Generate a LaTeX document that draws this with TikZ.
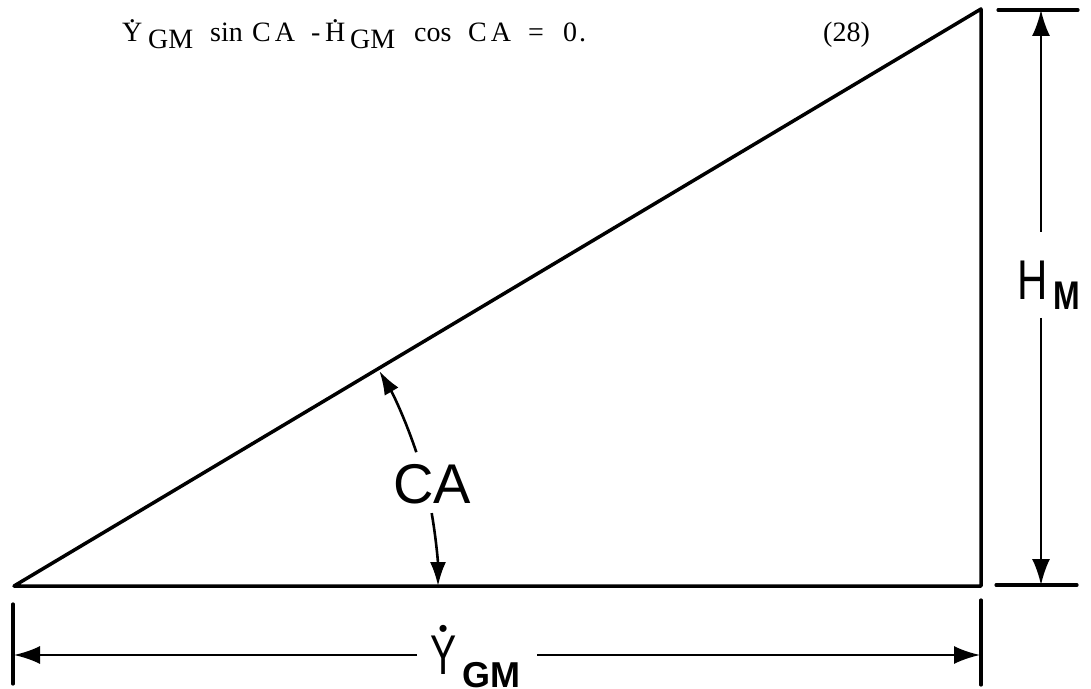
\documentclass[tikz,border=0pt]{standalone}
\usepackage{fontspec}
\setmainfont{Liberation Serif}
\newfontfamily\labfont{Liberation Sans}
\usetikzlibrary{arrows.meta}
\newcommand\dotover[3][2pt]{\leavevmode\setbox0\hbox{#3}\rlap{\hbox to\wd0{\hss\raisebox{\dimexpr\ht0+#1\relax}{#2}\hss}}\box0}
\newcommand\eqslot[2]{\makebox[#1pt][l]{#2}}
\begin{document}
\begin{tikzpicture}[x=1pt,y=1pt,
  edge/.style={line width=3.5pt, line join=round, line cap=round},
  dimline/.style={line width=2.4pt},
  tickline/.style={line width=3.2pt, line cap=round},
  dimarrow/.style={dimline,-{Latex[length=26pt,width=18pt]}},
  angarrow/.style={line width=2.6pt,-{Latex[length=24pt,width=16pt]}},
  lab/.style={font=\labfont\fontsize{56}{56}\selectfont, inner sep=0pt},
  eqtext/.style={font=\fontsize{28}{28}\selectfont, inner sep=0pt}]
\useasboundingbox (0,0) rectangle (1091,688);
% triangle
\coordinate (A) at (14,102);
\coordinate (B) at (981,102);
\coordinate (C) at (981,679);
\draw[edge] (A) -- (B) -- (C) -- cycle;
% vertical dimension
\coordinate (ht1) at (998,678); \coordinate (ht2) at (1078,678);
\coordinate (hb1) at (996,103); \coordinate (hb2) at (1077,103);
\draw[tickline] (ht1) -- (ht2);
\draw[tickline] (hb1) -- (hb2);
\coordinate (htop) at (1041,678);
\coordinate (hbot) at (1041,103);
\coordinate (hgapT) at (1041,456);
\coordinate (hgapB) at (1041,370);
\draw[dimarrow] (hgapT) -- (htop);
\draw[dimarrow] (hgapB) -- (hbot);
\node[lab, anchor=base west] (hm) at (1017,388) {\scalebox{0.75}[1]{H}\hspace{6pt}\raisebox{-10pt}{\fontsize{40}{40}\bfseries\scalebox{0.8}[1]{M}}};
% horizontal dimension
\coordinate (wl1) at (13,84); \coordinate (wl2) at (13,4);
\coordinate (wr1) at (981,88); \coordinate (wr2) at (981,3);
\draw[tickline] (wl1) -- (wl2);
\draw[tickline] (wr1) -- (wr2);
\coordinate (wleft) at (14,33); \coordinate (wright) at (980,33);
\coordinate (wgapL) at (417,33); \coordinate (wgapR) at (537,33);
\draw[dimarrow] (wgapL) -- (wleft);
\draw[dimarrow] (wgapR) -- (wright);
\node[lab, anchor=base west] (yg) at (430,14) {\dotover[-2pt]{{\fontsize{26}{26}\selectfont •}}{\scalebox{0.7}[1]{Y}}\hspace{6pt}\raisebox{-13pt}{\fontsize{36}{36}\bfseries GM}};
% angle
\draw[angarrow] ([shift={(18.4:424)}]A) arc[start angle=18.4, end angle=30.5, radius=424];
\draw[angarrow] ([shift={(9.9:424)}]A) arc[start angle=9.9, end angle=0, radius=424];
\node[lab, anchor=base] (ca) at (432,185) {CA};
% equation
\node[eqtext, anchor=base west] (eq) at (122,646) {\eqslot{26}{\dotover[1.5pt]{.}{Y}}\eqslot{62}{\raisebox{-7pt}{GM}}\eqslot{42}{sin}\eqslot{59}{C\hspace{4pt}A}\eqslot{14}{-}\eqslot{25}{\dotover[1.5pt]{.}{H}}\eqslot{64}{\raisebox{-7pt}{GM}}\eqslot{54}{cos}\eqslot{60}{C\hspace{4pt}A}\eqslot{35}{=}0\hspace{2pt}.};
\node[eqtext, anchor=base west] (eqn) at (823,646) {(28)};
\end{tikzpicture}
\end{document}
